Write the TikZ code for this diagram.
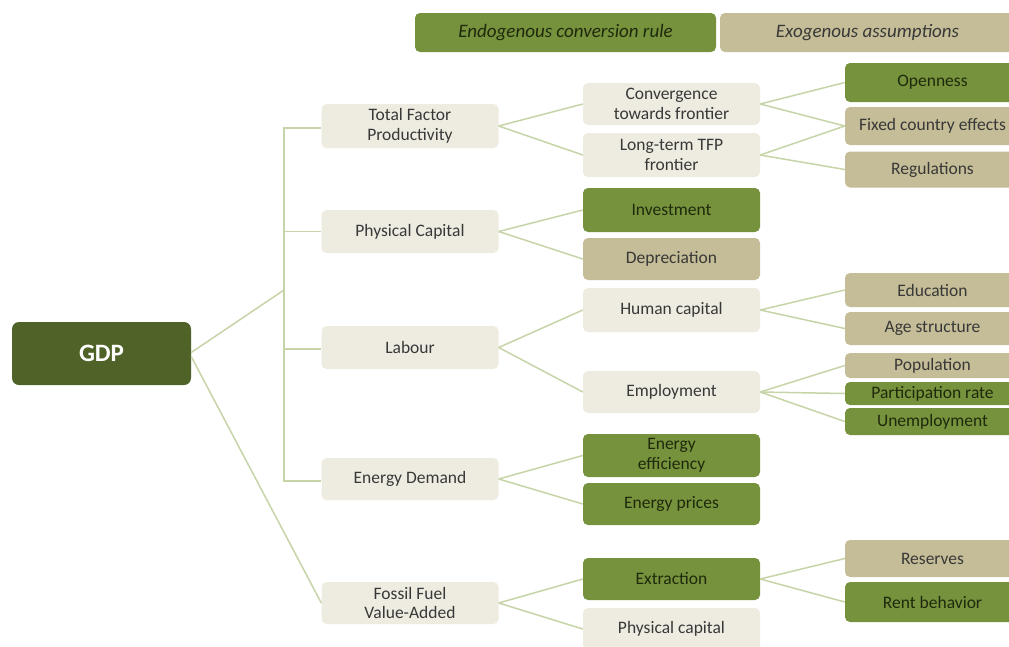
\documentclass[tikz,border=0pt]{standalone}
\usepackage{fontspec}
\setmainfont{Carlito}
\definecolor{darkgreen}{HTML}{4F6228}
\definecolor{midgreen}{HTML}{76923C}
\definecolor{tanbg}{HTML}{C4BD97}
\definecolor{lightbg}{HTML}{EEECE1}
\definecolor{linec}{HTML}{C6D4A8}
\definecolor{txt}{HTML}{383838}
\definecolor{greentxt}{HTML}{1F290C}
\begin{document}
\begin{tikzpicture}[x=1pt,y=-1pt,
  box/.style={rounded corners=5pt, inner sep=1pt, align=center, font=\fontsize{17.5}{19.5}\selectfont},
  lightbox/.style={box, fill=lightbg, text=txt},
  greenbox/.style={box, fill=midgreen, text=greentxt},
  tanbox/.style={box, fill=tanbg, text=txt},
  lone/.style={minimum width=177pt},
  ltwo/.style={minimum width=177pt},
  lthree/.style={minimum width=175pt},
  legend/.style={minimum height=39pt, font=\fontsize{19}{22}\selectfont\itshape},
  link/.style={draw=linec, line width=1.5pt}]
\clip (0,0) rectangle (1009,646);
\fill[white] (0,0) rectangle (1009,646);

% legend
\node[greenbox, legend, minimum width=301pt] (endo) at (565.5,32.5) {Endogenous conversion rule};
\node[tanbox, legend, minimum width=295pt] (exo) at (867.5,32.5) {Exogenous assumptions};

% root
\node[box, fill=darkgreen, text=white, minimum width=179pt, minimum height=63pt, rounded corners=7pt, font=\fontsize{25}{28}\selectfont\bfseries] (gdp) at (101.5,353.5) {GDP};

% level 1
\node[lightbox, lone, minimum height=44pt] (tfp) at (410,126) {Total Factor\\Productivity};
\node[lightbox, lone, minimum height=43pt] (pc) at (410,231.5) {Physical Capital};
\node[lightbox, lone, minimum height=43pt] (lab) at (410,347.5) {Labour};
\node[lightbox, lone, minimum height=42pt] (ed) at (410,479) {Energy Demand};
\node[lightbox, lone, minimum height=42pt] (ff) at (410,603) {Fossil Fuel\\Value-Added};

% level 2
\node[lightbox, ltwo, minimum height=42pt] (conv) at (671.5,104) {Convergence\\towards frontier};
\node[lightbox, ltwo, minimum height=44pt] (ltf) at (671.5,155) {Long-term TFP\\frontier};
\node[greenbox, ltwo, minimum height=44pt] (inv) at (671.5,210) {Investment};
\node[tanbox, ltwo, minimum height=42pt] (dep) at (671.5,259) {Depreciation};
\node[lightbox, ltwo, minimum height=44pt] (hc) at (671.5,310) {Human capital};
\node[lightbox, ltwo, minimum height=42pt] (emp) at (671.5,392) {Employment};
\node[greenbox, ltwo, minimum height=43pt] (ee) at (671.5,455.5) {Energy\\efficiency};
\node[greenbox, ltwo, minimum height=42pt] (ep) at (671.5,504) {Energy prices};
\node[greenbox, ltwo, minimum height=42pt] (ext) at (671.5,579) {Extraction};
\node[lightbox, ltwo, minimum height=42pt] (pcap) at (671.5,629) {Physical capital};

% level 3
\node[greenbox, lthree, minimum height=39pt] (open) at (932.5,82.5) {Openness};
\node[tanbox, lthree, minimum height=38pt] (fix) at (932.5,126) {Fixed country effects};
\node[tanbox, lthree, minimum height=36pt] (reg) at (932.5,169.5) {Regulations};
\node[tanbox, lthree, minimum height=34pt] (edu) at (932.5,290) {Education};
\node[tanbox, lthree, minimum height=33pt] (age) at (932.5,328.5) {Age structure};
\node[tanbox, lthree, minimum height=25pt] (pop) at (932.5,365.5) {Population};
\node[greenbox, lthree, minimum height=23pt] (part) at (932.5,393.5) {Participation rate};
\node[greenbox, lthree, minimum height=27pt] (unemp) at (932.5,421.5) {Unemployment};
\node[tanbox, lthree, minimum height=37pt] (res) at (932.5,558.5) {Reserves};
\node[greenbox, lthree, minimum height=40pt] (rent) at (932.5,602) {Rent behavior};

% connectors: root and trunk
\coordinate (j) at (284,290);
\draw[link] ([yshift=1pt]gdp.east) -- (j);
\draw[link] ([yshift=-3pt]gdp.east) -- (ff.west);
\draw[link] ([yshift=-2pt]tfp.west) -- ++(-37.5,0) |- ([yshift=-2pt]ed.west);
\draw[link] (pc.west) -- ++(-37.5,0);
\draw[link] ([yshift=-1.5pt]lab.west) -- ++(-37.5,0);

% level 1 -> level 2
\foreach \a/\b in {tfp/conv, tfp/ltf, pc/inv, pc/dep, lab/hc, lab/emp, ed/ee, ed/ep, ff/ext, ff/pcap}
  \draw[link] (\a.east) -- (\b.west);

% level 2 -> level 3
\foreach \a/\b in {conv/open, conv/fix, ltf/fix, ltf/reg, hc/edu, hc/age, emp/pop, emp/part, emp/unemp, ext/res, ext/rent}
  \draw[link] (\a.east) -- (\b.west);
\end{tikzpicture}
\end{document}
